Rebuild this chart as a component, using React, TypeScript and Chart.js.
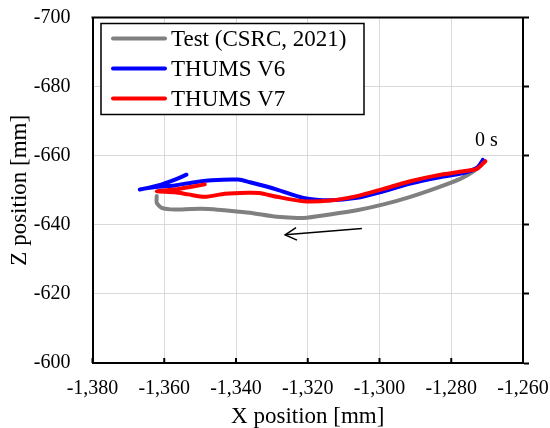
import React, { useEffect, useRef } from "react";
import { Chart, registerables } from "chart.js";

Chart.register(...registerables);

const FONT = "'Liberation Serif', 'Times New Roman', serif";

const seriesLabels = ["Test (CSRC, 2021)", "THUMS V6", "THUMS V7"];
const seriesColors = ["#808080", "#0000ff", "#ff0000"];

const testX = [-1271.6, -1273.8, -1277.5, -1284.0, -1291.4, -1298.9, -1306.3, -1313.8, -1321.2, -1328.6, -1336.1, -1343.1, -1347.7, -1352.4, -1357.0, -1360.7, -1362.1, -1362.1];
const testZ = [-657.6, -655.5, -653.3, -650.7, -648.1, -645.9, -644.2, -643.0, -642.0, -642.3, -643.5, -644.2, -644.6, -644.6, -644.4, -644.9, -646.4, -648.3];

const v6X = [-1271.2, -1271.4, -1272.8, -1276.6, -1284.0, -1291.4, -1298.9, -1306.3, -1313.8, -1321.2, -1328.6, -1336.1, -1339.4, -1346.8, -1352.4, -1357.0, -1361.7, -1365.9, -1366.8, -1361.7, -1357.0, -1353.8];
const v6Z = [-658.8, -658.4, -656.5, -655.0, -653.6, -651.9, -649.7, -647.8, -647.1, -647.8, -650.2, -652.3, -653.1, -652.9, -652.2, -651.4, -651.0, -650.4, -650.2, -651.4, -653.1, -654.5];

const v7X = [-1270.5, -1271.0, -1272.8, -1276.6, -1284.0, -1291.4, -1298.9, -1306.3, -1313.8, -1321.2, -1328.6, -1333.5, -1336.6, -1343.1, -1348.7, -1353.3, -1357.0, -1362.1, -1357.0, -1352.4, -1348.7];
const v7Z = [-658.4, -657.9, -656.2, -655.5, -654.3, -652.6, -650.4, -648.3, -647.0, -646.8, -648.1, -649.2, -649.3, -649.0, -648.1, -648.8, -649.4, -649.7, -650.2, -651.0, -651.7];

const xRange = [-1380, -1260];
const zRange = [-700, -600];
const tickStep = 20;

const startLabel = "0 s";
const startLabelPos = [-1270.2, -664.2];
const arrowStart = [-1304.9, -638.9];
const arrowEnd = [-1326.3, -637.1];

const toPoints = (xs: number[], zs: number[]) => xs.map((x, i) => ({ x, y: zs[i] }));

const zeroPad = (s: any) => {
  s.paddingTop = 0;
  s.paddingBottom = 0;
  s.paddingLeft = 0;
  s.paddingRight = 0;
};

const decorPlugin = {
  id: "decor",
  afterDatasetsDraw(chart: any) {
    const { ctx, chartArea: a, scales } = chart;
    const x = scales.x;
    const y = scales.y;
    ctx.save();
    ctx.strokeStyle = "#000";
    ctx.lineWidth = 2;
    ctx.beginPath();
    ctx.moveTo(a.left - 1, a.top);
    ctx.lineTo(a.right + 1, a.top);
    ctx.stroke();
    x.ticks.forEach((t: any) => {
      const px = x.getPixelForValue(t.value);
      ctx.beginPath();
      ctx.moveTo(px, a.bottom);
      ctx.lineTo(px, a.bottom - 5);
      ctx.stroke();
    });
    const sx = x.getPixelForValue(arrowStart[0]);
    const sy = y.getPixelForValue(arrowStart[1]);
    const ex = x.getPixelForValue(arrowEnd[0]);
    const ey = y.getPixelForValue(arrowEnd[1]);
    ctx.lineWidth = 1.5;
    ctx.beginPath();
    ctx.moveTo(sx, sy);
    ctx.lineTo(ex, ey);
    ctx.stroke();
    const ang = Math.atan2(ey - sy, ex - sx);
    const hl = 13;
    const ha = 0.5;
    ctx.beginPath();
    ctx.moveTo(ex - hl * Math.cos(ang - ha), ey - hl * Math.sin(ang - ha));
    ctx.lineTo(ex, ey);
    ctx.lineTo(ex - hl * Math.cos(ang + ha), ey - hl * Math.sin(ang + ha));
    ctx.stroke();
    ctx.fillStyle = "#000";
    ctx.font = `20px ${FONT}`;
    ctx.textAlign = "center";
    ctx.textBaseline = "middle";
    ctx.fillText(startLabel, x.getPixelForValue(startLabelPos[0]), y.getPixelForValue(startLabelPos[1]));
    const lx = a.left + 8.5;
    const ly = a.top + 6;
    const lw = 263;
    const lh = 91;
    ctx.fillStyle = "#fff";
    ctx.fillRect(lx, ly, lw, lh);
    ctx.strokeStyle = "#000";
    ctx.lineWidth = 1.5;
    ctx.strokeRect(lx, ly, lw, lh);
    ctx.font = `23px ${FONT}`;
    ctx.textAlign = "left";
    chart.data.datasets.forEach((ds: any, i: number) => {
      const rowY = ly + 15 + i * 30;
      ctx.strokeStyle = ds.borderColor;
      ctx.lineWidth = 4;
      ctx.lineCap = "round";
      ctx.beginPath();
      ctx.moveTo(lx + 12, rowY);
      ctx.lineTo(lx + 64, rowY);
      ctx.stroke();
      ctx.fillStyle = "#000";
      ctx.fillText(ds.label, lx + 70, rowY + 1);
    });
    ctx.restore();
  },
};

export default function App() {
  const ref = useRef<HTMLCanvasElement | null>(null);
  useEffect(() => {
    if (!ref.current) return;
    const series = [
      toPoints(testX, testZ),
      toPoints(v6X, v6Z),
      toPoints(v7X, v7Z),
    ];
    const chart = new Chart(ref.current, {
      type: "scatter",
      data: {
        datasets: series.map((pts, i) => ({
          label: seriesLabels[i],
          data: pts,
          showLine: true,
          borderColor: seriesColors[i],
          backgroundColor: seriesColors[i],
          borderWidth: 4,
          pointRadius: 0,
          tension: 0.25,
          borderCapStyle: "round",
          borderJoinStyle: "round",
          order: 3 - i,
        })),
      },
      options: {
        responsive: false,
        animation: false,
        layout: { padding: { top: 17.5, left: 0, right: 0, bottom: 0 } },
        plugins: { legend: { display: false }, tooltip: { enabled: false } },
        scales: {
          x: {
            type: "linear",
            min: xRange[0],
            max: xRange[1],
            ticks: {
              stepSize: tickStep,
              callback: (v: any) => Number(v).toLocaleString("en-US"),
              font: { family: FONT, size: 20 },
              color: "#000",
              padding: 14,
              maxRotation: 0,
              autoSkip: false,
            },
            grid: { color: "#d9d9d9", drawTicks: false },
            border: { display: true, color: "#000", width: 2 },
            title: {
              display: true,
              text: "X position [mm]",
              font: { family: FONT, size: 23, lineHeight: 1 },
              color: "#000",
              padding: { top: 0, bottom: 0 },
            },
            afterFit: (s: any) => {
              s.height = 65;
              zeroPad(s);
            },
          },
          y: {
            type: "linear",
            position: "left",
            min: zRange[0],
            max: zRange[1],
            reverse: true,
            ticks: {
              stepSize: tickStep,
              font: { family: FONT, size: 20 },
              color: "#000",
              padding: 22,
            },
            grid: { color: "#d9d9d9", drawTicks: false },
            border: { display: true, color: "#000", width: 2 },
            title: {
              display: true,
              text: "Z position [mm]",
              font: { family: FONT, size: 23, lineHeight: 1 },
              color: "#000",
              padding: { top: 8.5, bottom: 0 },
            },
            afterFit: (s: any) => {
              s.width = 92.5;
              zeroPad(s);
            },
          },
          y2: {
            type: "linear",
            position: "right",
            min: zRange[0],
            max: zRange[1],
            reverse: true,
            ticks: { display: false, stepSize: tickStep },
            grid: {
              drawOnChartArea: false,
              drawTicks: true,
              tickLength: 6,
              tickColor: "#000",
              tickWidth: 2,
            },
            border: { display: true, color: "#000", width: 2 },
            afterFit: (s: any) => {
              s.width = 27;
              zeroPad(s);
            },
          },
        },
      },
      plugins: [decorPlugin],
    } as any);
    return () => chart.destroy();
  }, []);
  return (
    <div style={{ position: "absolute", left: 0, top: 0, width: 550, height: 428 }}>
      <canvas ref={ref} width={550} height={428} style={{ display: "block" }} />
    </div>
  );
}
